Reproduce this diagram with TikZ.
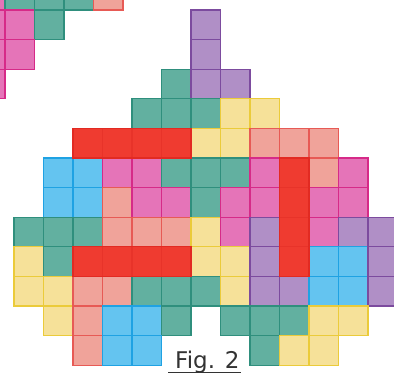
\documentclass[tikz,border=0pt]{standalone}
\usepackage{fontspec}
\newfontfamily\figfont{DejaVu Sans}
\definecolor{tF}{HTML}{62B0A0}\definecolor{tD}{HTML}{2F8F7D}
\definecolor{kF}{HTML}{E574B8}\definecolor{kD}{HTML}{D62A88}
\definecolor{sF}{HTML}{F0A39A}\definecolor{sD}{HTML}{E75A55}
\definecolor{rF}{HTML}{EF3B30}\definecolor{rD}{HTML}{E22A22}\definecolor{rL}{HTML}{E8332A}
\definecolor{yF}{HTML}{F6E199}\definecolor{yD}{HTML}{EBCB3A}
\definecolor{bF}{HTML}{64C4F0}\definecolor{bD}{HTML}{1FA2E3}
\definecolor{pF}{HTML}{B08FC6}\definecolor{pD}{HTML}{7C4B9E}
\tikzset{
  T/.style={fill=tF,draw=tD},
  K/.style={fill=kF,draw=kD},
  S/.style={fill=sF,draw=sD},
  R/.style={fill=rF,draw=rL},
  Y/.style={fill=yF,draw=yD},
  B/.style={fill=bF,draw=bD},
  P/.style={fill=pF,draw=pD},
  redbar/.style={draw=rD,line width=1.1pt},
  cellline/.style={line width=1.1pt},
  figlabel/.style={font=\figfont\fontsize{23}{23}\selectfont,text=black!80,inner sep=0pt,anchor=base west}
}
\begin{document}
\begin{tikzpicture}[x=1pt,y=-1pt]
\clip (0,0) rectangle (394,374);
\fill[white] (0,0) rectangle (394,374);
% fragment at top-left
\foreach \c/\r/\s in {-1/-1/K,0/-1/T,1/-1/T,2/-1/T,3/-1/S,-1/0/K,0/0/K,1/0/T,-1/1/K,0/1/K,-1/2/K}{
  \draw[\s,cellline] ({5+29.5*\c},{10+29.6*\r}) rectangle +(29.5,29.6);
}
% main figure
\foreach \c/\r/\s in {
 6/0/P,
 6/1/P,
 5/2/T,6/2/P,7/2/P,
 4/3/T,5/3/T,6/3/T,7/3/Y,8/3/Y,
 2/4/R,3/4/R,4/4/R,5/4/R,6/4/Y,7/4/Y,8/4/S,9/4/S,10/4/S,
 1/5/B,2/5/B,3/5/K,4/5/K,5/5/T,6/5/T,7/5/T,8/5/K,9/5/R,10/5/S,11/5/K,
 1/6/B,2/6/B,3/6/S,4/6/K,5/6/K,6/6/T,7/6/K,8/6/K,9/6/R,10/6/K,11/6/K,
 0/7/T,1/7/T,2/7/T,3/7/S,4/7/S,5/7/S,6/7/Y,7/7/K,8/7/P,9/7/R,10/7/K,11/7/P,12/7/P,
 0/8/Y,1/8/T,2/8/R,3/8/R,4/8/R,5/8/R,6/8/Y,7/8/Y,8/8/P,9/8/R,10/8/B,11/8/B,12/8/P,
 0/9/Y,1/9/Y,2/9/S,3/9/S,4/9/T,5/9/T,6/9/T,7/9/Y,8/9/P,9/9/P,10/9/B,11/9/B,12/9/P,
 1/10/Y,2/10/S,3/10/B,4/10/B,5/10/T,7/10/T,8/10/T,9/10/T,10/10/Y,11/10/Y,
 2/11/S,3/11/B,4/11/B,8/11/T,9/11/Y,10/11/Y}{
  \draw[\s,cellline] ({14+29.5*\c},{10+29.6*\r}) rectangle +(29.5,29.6);
}
% red bars outlined as whole pieces
\draw[redbar] ({14+29.5*2},{10+29.6*4}) rectangle +(118,29.6);
\draw[redbar] ({14+29.5*2},{10+29.6*8}) rectangle +(118,29.6);
\draw[redbar] ({14+29.5*9},{10+29.6*5}) rectangle +(29.5,118.4);
\node[figlabel] (fig) at (175,369) {Fig. 2};
\coordinate (ulA) at (168,372.5);
\coordinate (ulB) at (241,372.5);
\draw[line width=1.5pt,black!80] (ulA) -- (ulB);
\end{tikzpicture}
\end{document}
